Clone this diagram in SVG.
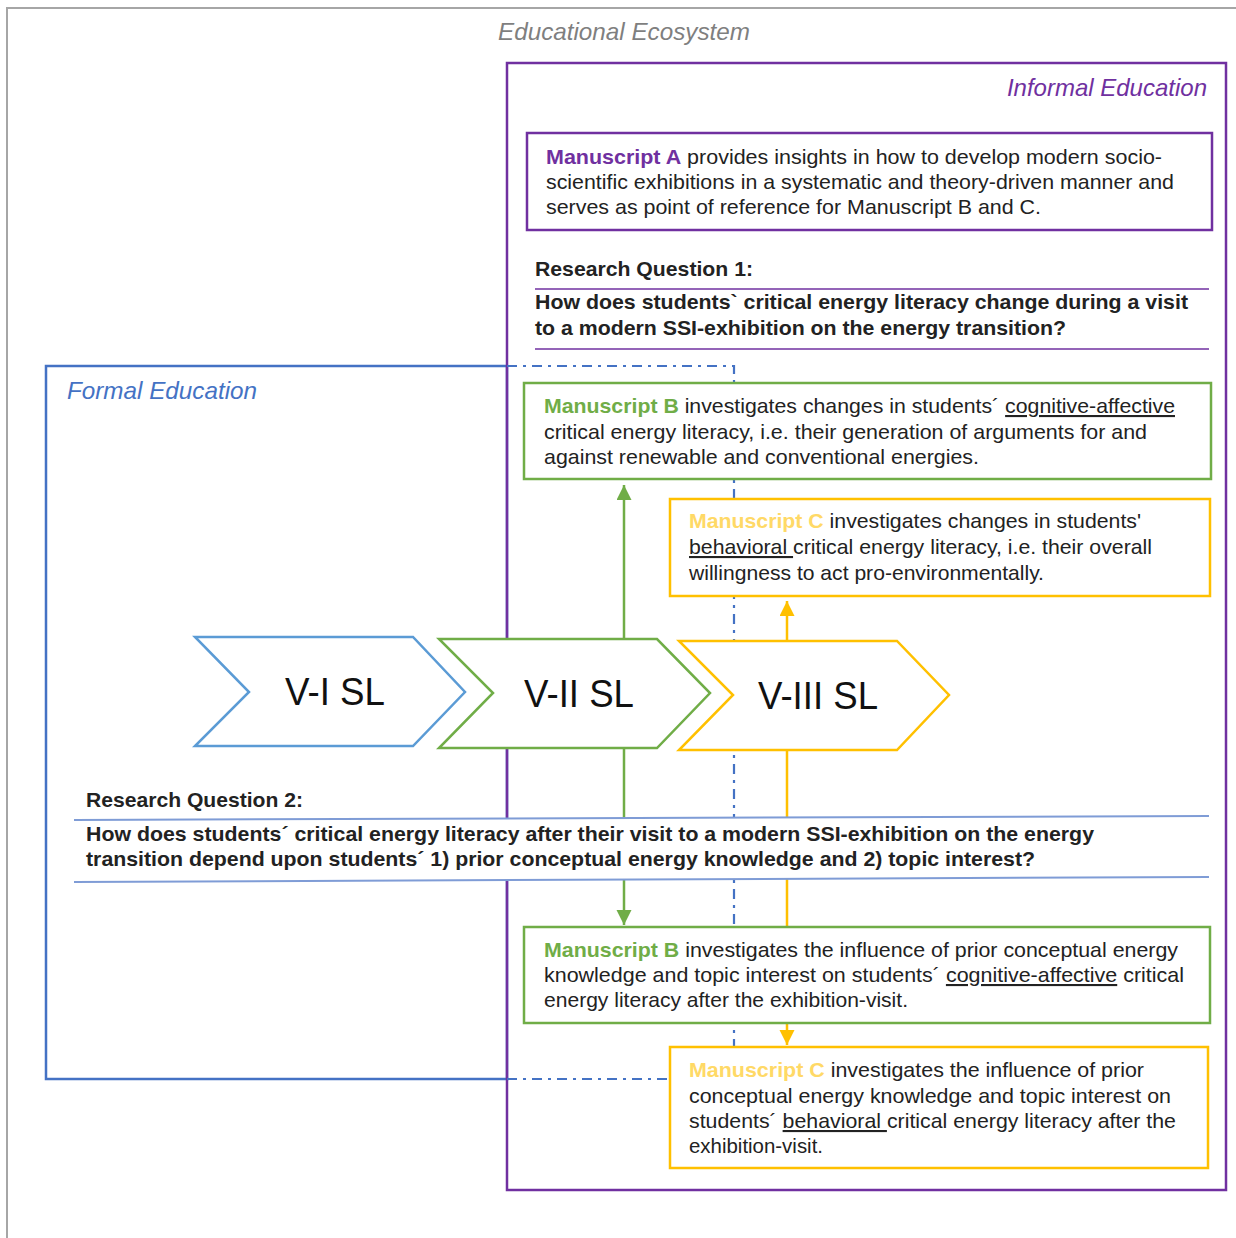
<svg xmlns="http://www.w3.org/2000/svg" width="1236" height="1238" viewBox="0 0 1236 1238">
<style>
.t{font-family:"Liberation Sans",Arial,sans-serif;font-size:21px;fill:#222}
.b{font-weight:bold}
.title{font-family:"Liberation Sans",Arial,sans-serif;font-size:24px;font-style:italic}
.chev{font-family:"Liberation Sans",Arial,sans-serif;font-size:39px;fill:#111}
.u{text-decoration:underline}
.mA{fill:#7030A0;font-weight:bold}
.mB{fill:#70AD47;font-weight:bold}
.mC{fill:#FFD966;font-weight:bold}
.box{fill:#fff;stroke-width:2.5}
.dd{fill:none;stroke:#4472C4;stroke-width:2.2;stroke-dasharray:10 6 3 6}
</style>
<defs>
<marker id="ag" markerUnits="userSpaceOnUse" markerWidth="16" markerHeight="16" refX="15" refY="7.5" orient="auto"><path d="M0,0 L15,7.5 L0,15 Z" fill="#70AD47"/></marker>
<marker id="ay" markerUnits="userSpaceOnUse" markerWidth="16" markerHeight="16" refX="15" refY="7.5" orient="auto"><path d="M0,0 L15,7.5 L0,15 Z" fill="#FFC000"/></marker>
</defs>
<rect width="1236" height="1238" fill="#fff"/>
<g id="ecosystem">
<path d="M7,1238 V8 H1236" fill="none" stroke="#A6A6A6" stroke-width="2"/>
<text class="title" x="498" y="40" fill="#7F7F7F" textLength="252" lengthAdjust="spacingAndGlyphs">Educational Ecosystem</text>
</g>
<g id="formal">
<rect x="46" y="366" width="461" height="713" fill="none" stroke="#4472C4" stroke-width="2.5"/>
<text class="title" x="67" y="399" fill="#4472C4" textLength="190" lengthAdjust="spacingAndGlyphs">Formal Education</text>
</g>
<g id="informal">
<rect x="507" y="63" width="719" height="1127" fill="none" stroke="#7030A0" stroke-width="2.5"/>
<text class="title" x="1207" y="96" fill="#7030A0" text-anchor="end">Informal Education</text>
</g>
<g id="connectors">
<path class="dd" d="M507,366 H734 V1079"/>
<path class="dd" d="M507,1079 H670"/>
<path d="M624,639 V485" stroke="#70AD47" stroke-width="2.5" fill="none" marker-end="url(#ag)"/>
<path d="M624,748 V925" stroke="#70AD47" stroke-width="2.5" fill="none" marker-end="url(#ag)"/>
<path d="M787,641 V601" stroke="#FFC000" stroke-width="2.5" fill="none" marker-end="url(#ay)"/>
<path d="M787,750 V1045" stroke="#FFC000" stroke-width="2.5" fill="none" marker-end="url(#ay)"/>
</g>
<g id="manuscriptA">
<rect class="box" x="527" y="133" width="685" height="97" stroke="#7030A0"/>
<text class="t" x="546" y="164" textLength="616" lengthAdjust="spacingAndGlyphs"><tspan class="mA">Manuscript A</tspan> provides insights in how to develop modern socio-</text>
<text class="t" x="546" y="189" textLength="628" lengthAdjust="spacingAndGlyphs">scientific exhibitions in a systematic and theory-driven manner and</text>
<text class="t" x="546" y="214" textLength="495" lengthAdjust="spacingAndGlyphs">serves as point of reference for Manuscript B and C.</text>
</g>
<g id="rq1">
<text class="t b" x="535" y="276" textLength="218" lengthAdjust="spacingAndGlyphs">Research Question 1:</text>
<line x1="535" y1="289" x2="1209" y2="289" stroke="#7030A0" stroke-width="1.3"/>
<text class="t b" x="535" y="309" textLength="653" lengthAdjust="spacingAndGlyphs">How does students` critical energy literacy change during a visit</text>
<text class="t b" x="535" y="335" textLength="531" lengthAdjust="spacingAndGlyphs">to a modern SSI-exhibition on the energy transition?</text>
<line x1="535" y1="349" x2="1209" y2="349" stroke="#7030A0" stroke-width="1.3"/>
</g>
<g id="rq2">
<polygon points="74,820 1209,816 1209,877 74,882" fill="#fff"/>
<text class="t b" x="86" y="807" textLength="217" lengthAdjust="spacingAndGlyphs">Research Question 2:</text>
<line x1="74" y1="820" x2="1209" y2="816" stroke="#7F9CD6" stroke-width="2"/>
<text class="t b" x="86" y="841" textLength="1008" lengthAdjust="spacingAndGlyphs">How does students´ critical energy literacy after their visit to a modern SSI-exhibition on the energy</text>
<text class="t b" x="86" y="866" textLength="949" lengthAdjust="spacingAndGlyphs">transition depend upon students´ 1) prior conceptual energy knowledge and 2) topic interest?</text>
<line x1="74" y1="882" x2="1209" y2="877" stroke="#7F9CD6" stroke-width="2"/>
</g>
<g id="manuscriptB1">
<rect class="box" x="524" y="383" width="687" height="96" stroke="#70AD47"/>
<text class="t" x="544" y="413" textLength="631" lengthAdjust="spacingAndGlyphs"><tspan class="mB">Manuscript B</tspan> investigates changes in students´ <tspan class="u">cognitive-affective</tspan></text>
<text class="t" x="544" y="439" textLength="603" lengthAdjust="spacingAndGlyphs">critical energy literacy, i.e. their generation of arguments for and</text>
<text class="t" x="544" y="464" textLength="435" lengthAdjust="spacingAndGlyphs">against renewable and conventional energies.</text>
</g>
<g id="manuscriptC1">
<rect class="box" x="670" y="499" width="540" height="97" stroke="#FFC000"/>
<text class="t" x="689" y="528" textLength="452" lengthAdjust="spacingAndGlyphs"><tspan class="mC">Manuscript C</tspan> investigates changes in students'</text>
<text class="t" x="689" y="554" textLength="463" lengthAdjust="spacingAndGlyphs"><tspan class="u">behavioral </tspan>critical energy literacy, i.e. their overall</text>
<text class="t" x="689" y="580" textLength="355" lengthAdjust="spacingAndGlyphs">willingness to act pro-environmentally.</text>
</g>
<g id="manuscriptB2">
<rect class="box" x="524" y="927" width="686" height="96" stroke="#70AD47"/>
<text class="t" x="544" y="957" textLength="634" lengthAdjust="spacingAndGlyphs"><tspan class="mB">Manuscript B</tspan> investigates the influence of prior conceptual energy</text>
<text class="t" x="544" y="982" textLength="640" lengthAdjust="spacingAndGlyphs">knowledge and topic interest on students´ <tspan class="u">cognitive-affective</tspan> critical</text>
<text class="t" x="544" y="1007" textLength="364" lengthAdjust="spacingAndGlyphs">energy literacy after the exhibition-visit.</text>
</g>
<g id="manuscriptC2">
<rect class="box" x="670" y="1047" width="538" height="121" stroke="#FFC000"/>
<text class="t" x="689" y="1077" textLength="455" lengthAdjust="spacingAndGlyphs"><tspan class="mC">Manuscript C</tspan> investigates the influence of prior</text>
<text class="t" x="689" y="1103" textLength="482" lengthAdjust="spacingAndGlyphs">conceptual energy knowledge and topic interest on</text>
<text class="t" x="689" y="1128" textLength="487" lengthAdjust="spacingAndGlyphs">students´ <tspan class="u">behavioral </tspan>critical energy literacy after the</text>
<text class="t" x="689" y="1153" textLength="134" lengthAdjust="spacingAndGlyphs">exhibition-visit.</text>
</g>
<g id="chevronVI">
<polygon points="195,637 413,637 465,692 413,746 195,746 249,692" fill="#fff" stroke="#5B9BD5" stroke-width="2.5"/>
<text class="chev" x="285" y="705" textLength="100" lengthAdjust="spacingAndGlyphs">V-I SL</text>
</g>
<g id="chevronVII">
<polygon points="439,639 657,639 710,693 657,748 439,748 493,693" fill="#fff" stroke="#70AD47" stroke-width="2.5"/>
<text class="chev" x="524" y="707" textLength="110" lengthAdjust="spacingAndGlyphs">V-II SL</text>
</g>
<g id="chevronVIII">
<polygon points="679,641 897,641 949,695 897,750 679,750 733,695" fill="#fff" stroke="#FFC000" stroke-width="2.5"/>
<text class="chev" x="758" y="709" textLength="120" lengthAdjust="spacingAndGlyphs">V-III SL</text>
</g>
</svg>
